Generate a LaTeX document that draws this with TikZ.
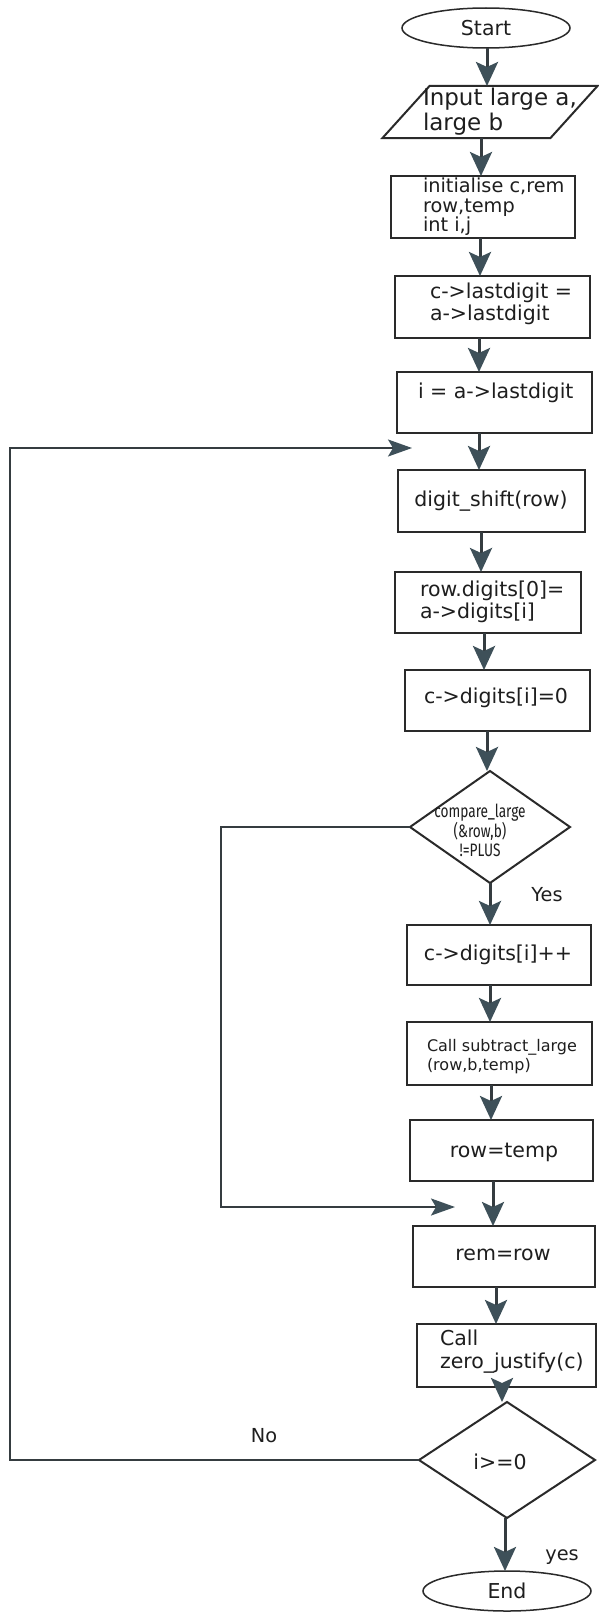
\documentclass[tikz,border=0pt]{standalone}
\usepackage{fontspec}
\setmainfont{DejaVu Sans}
\newfontfamily\condfont[FakeStretch=0.76]{Fira Sans}
\usetikzlibrary{shapes.geometric,arrows.meta}

\definecolor{boxline}{HTML}{2A2A2A}
\definecolor{arrline}{HTML}{353C40}
\definecolor{arrhead}{HTML}{3E5059}
\definecolor{textc}{HTML}{1E1E1E}

\newcommand\fsmain{\fontsize{20.5bp}{22bp}\selectfont}
\newcommand\fsinput{\fontsize{23bp}{25bp}\selectfont}
\newcommand\fsinit{\fontsize{19.3bp}{19.5bp}\selectfont}
\newcommand\fssmall{\fontsize{16bp}{19bp}\selectfont}
\newcommand\fscond{\condfont\fontsize{18bp}{19bp}\selectfont}

\begin{document}
\begin{tikzpicture}[x=1bp, y=-1bp,
  every node/.style={inner sep=0pt, outer sep=0pt},
  box/.style={draw=boxline, line width=2bp, anchor=north west},
  term/.style={ellipse, draw=boxline, line width=1.5bp, minimum width=168bp, minimum height=40bp, text=textc, font=\fsmain},
  decide/.style={diamond, draw=boxline, line width=2bp},
  txt/.style={text=textc, font=\fsmain, align=left},
  arr/.style={draw=arrline, line width=3bp, -{Stealth[length=24bp, width=22bp, inset=5bp, color=arrhead]}},
  back/.style={draw=arrline, line width=2bp, -{Stealth[length=24bp, width=17bp, inset=5bp, color=arrhead]}},
]
\fill[white] (0,0) rectangle (599,1618);
\useasboundingbox (0,0) rectangle (599,1618);

% terminals
\node[term] (start) at (486,28) {Start};
\node[term] (end) at (507,1591) {End};

% input parallelogram
\node[minimum width=168bp, minimum height=52bp] (input) at (490,112) {};
\draw[boxline, line width=2bp, line join=miter]
  ([xshift=23.5bp]input.north west) -- ([xshift=23.5bp]input.north east) --
  ([xshift=-23.5bp]input.south east) -- ([xshift=-23.5bp]input.south west) -- cycle;
\node[txt, font=\fsinput, anchor=west] (t-input) at (423,112) {Input large a,\\large b};

% process boxes
\node[box, minimum width=184bp, minimum height=62bp] (init) at (391,176) {};
\node[txt, font=\fsinit, anchor=west] (t-init) at (423,207) {initialise c,rem\\row,temp\\int i,j};

\node[box, minimum width=195bp, minimum height=62bp] (clast) at (395,276) {};
\node[txt, anchor=west] (t-clast) at (430,304) {c->lastdigit =\\a->lastdigit};

\node[box, minimum width=195bp, minimum height=61bp] (iassign) at (397,372) {};
\node[txt, anchor=west] (t-iassign) at (418,393) {i = a->lastdigit};

\node[box, minimum width=187bp, minimum height=62bp] (dshift) at (398,470) {};
\node[txt] (t-dshift) at (491,501) {digit\_shift(row)};

\node[box, minimum width=186bp, minimum height=61bp] (rowdig) at (395,572) {};
\node[txt, anchor=west] (t-rowdig) at (420,602) {row.digits[0]=\\a->digits[i]};

\node[box, minimum width=185bp, minimum height=61bp] (czero) at (405,670) {};
\node[txt] (t-czero) at (496,698) {c->digits[i]=0};

% first decision
\node[decide, minimum width=160bp, minimum height=112bp] (d1) at (490,827) {};
\node[txt, font=\fscond, align=center] (t-d1) at (480,830) {compare\_large\\(\&row,b)\\!=PLUS};
\node[txt, font=\fsinit] (yes1) at (547,895) {Yes};

\node[box, minimum width=184bp, minimum height=60bp] (cinc) at (407,925) {};
\node[txt] (t-cinc) at (498,955) {c->digits[i]++};

\node[box, minimum width=185bp, minimum height=63bp] (csub) at (407,1022) {};
\node[txt, font=\fssmall, anchor=west] (t-csub) at (427,1057) {Call subtract\_large\\(row,b,temp)};

\node[box, minimum width=183bp, minimum height=61bp] (rowtemp) at (410,1120) {};
\node[txt] (t-rowtemp) at (504,1152) {row=temp};

\node[box, minimum width=182bp, minimum height=61bp] (remrow) at (413,1226) {};
\node[txt] (t-remrow) at (503,1255) {rem=row};

\node[box, minimum width=179bp, minimum height=63bp] (czj) at (417,1324) {};
\node[txt, anchor=west, font={\fontsize{20.5bp}{23bp}\selectfont}] (t-czj) at (440,1352) {Call\\zero\_justify(c)};

% second decision
\node[decide, minimum width=176bp, minimum height=116bp] (d2) at (507,1460) {};
\node[txt] (t-d2) at (500,1462) {i>=0};
\node[txt, font=\fsinit] (no2) at (264,1436) {No};
\node[txt, font=\fsinit] (yes2) at (562,1557) {yes};

% main flow
\draw[arr] (start.south -| 487,0) -- (input.north -| 487,0);
\draw[arr] (input.south -| 481,0) -- (init.north -| 481,0);
\draw[arr] (init.south -| 480,0) -- (clast.north -| 480,0);
\draw[arr] (clast.south -| 479,0) -- (iassign.north -| 479,0);
\draw[arr] (iassign.south -| 479,0) -- (dshift.north -| 479,0);
\draw[arr] (dshift.south -| 481,0) -- (rowdig.north -| 481,0);
\draw[arr] (rowdig.south -| 484,0) -- (czero.north -| 484,0);
\draw[arr] (czero.south -| 487,0) -- (d1.north -| 487,0);
\draw[arr] (d1.south -| 490,0) -- (cinc.north -| 490,0);
\draw[arr] (cinc.south -| 490,0) -- (csub.north -| 490,0);
\draw[arr] (csub.south -| 491,0) -- (rowtemp.north -| 491,0);
\draw[arr] (rowtemp.south -| 493,0) -- (remrow.north -| 493,0);
\draw[arr] (remrow.south -| 496,0) -- (czj.north -| 496,0);
\draw[arr] (czj.south -| 502,0) -- (d2.north -| 502,0);
\draw[arr] (d2.south -| 505,0) -- (end.north -| 505,0);

% return paths
\coordinate (j1) at (455,1207);
\coordinate (l1) at (221,0);
\draw[back] (d1.west) -- (d1.west -| l1) -- (j1 -| l1) -- (j1);

\coordinate (j2) at (412,448);
\coordinate (l2) at (10,0);
\draw[back] (d2.west) -- (d2.west -| l2) -- (j2 -| l2) -- (j2);
\end{tikzpicture}
\end{document}
